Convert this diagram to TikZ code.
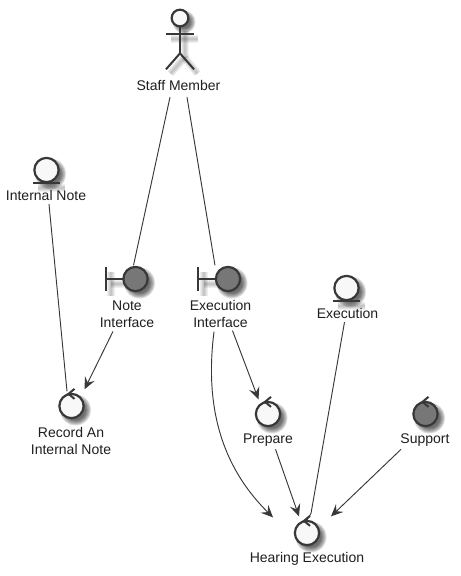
\documentclass[tikz,border=0pt]{standalone}
\usepackage{fontspec}
\setmainfont{Liberation Sans}
\usetikzlibrary{arrows.meta,calc}
\definecolor{ink}{HTML}{383838}
\definecolor{lite}{HTML}{F8F8F8}
\definecolor{dark}{HTML}{777777}
\newcommand{\softdisc}[3]{%
  \foreach \d in {3,2,1,0,-1,-2}
    \fill[black,fill opacity=.13] (#1+4,#2+4) circle[radius=#3+\d];}
\newcommand{\softline}[4]{%
  \foreach \w in {6pt,4.5pt,3pt,1.5pt}
    \draw[black,draw opacity=.06,line width=\w] (#1+4.5,#2+4.5) -- (#3+4.5,#4+4.5);}
\tikzset{
  x=0.75pt,y=-0.75pt,
  icon/.style={circle,draw=ink,line width=1.65pt,minimum size=18.2pt,inner sep=0pt,outer sep=0pt},
  lightic/.style={icon,fill=lite},
  darkic/.style={icon,fill=dark},
  lbl/.style={inner sep=0pt,outer sep=0pt,align=center,font=\fontsize{10.5pt}{12.75pt}\selectfont,text=black!88},
  glyph/.style={draw=ink,line width=1.5pt},
  link/.style={draw=ink,line width=0.7pt},
  flow/.style={link,-{Stealth[length=9pt,width=8pt,inset=3.4pt]}},
}
\begin{document}
\begin{tikzpicture}
\useasboundingbox (0,0) rectangle (461,576);
\fill[white] (0,0) rectangle (461,576);
% shadows
\softdisc{180}{18}{8.5}
\softline{166}{34}{193}{34}
\softline{180}{26}{180}{53}
\softline{180}{53}{166}{69}
\softline{180}{53}{193}{69}
\softdisc{46.5}{170}{12.5}
\softline{33}{183}{60}{183}
\softdisc{346.5}{288}{12.5}
\softline{333}{301}{360}{301}
\softdisc{135.5}{279}{12.5}
\softline{106}{267}{106}{291}
\softline{106}{279}{123}{279}
\softdisc{228}{279}{12.5}
\softline{199}{267}{199}{291}
\softline{199}{279}{216}{279}
\softdisc{71.5}{406}{12.5}
\softdisc{268}{414}{12.5}
\softdisc{425.5}{414}{12.5}
\softdisc{307}{533}{12.5}
% actor
\node[icon,fill=lite,minimum size=12.5pt] (staffHead) at (180,18) {};
\coordinate (staffHip) at ($(staffHead.south)+(0,27)$);
\coordinate (staffArms) at ($(staffHead.south)+(0,8)$);
\draw[glyph] (staffHead.south) -- (staffHip);
\draw[glyph] ($(staffArms)+(-14,0)$) -- ($(staffArms)+(14,0)$);
\draw[glyph] ($(staffHip)+(-14,16)$) -- (staffHip) -- ($(staffHip)+(14,16)$);
\node[lbl] (staffLabel) at (178.5,85) {Staff Member};
% entities
\node[lightic] (noteEntity) at (46.5,170) {};
\draw[glyph] ($(noteEntity.south)+(-13.5,0.5)$) -- ($(noteEntity.south)+(13.5,0.5)$);
\node[lbl] (noteEntityLabel) at (46,195) {Internal Note};
\node[lightic] (execEntity) at (346.5,288) {};
\draw[glyph] ($(execEntity.south)+(-13.5,0.5)$) -- ($(execEntity.south)+(13.5,0.5)$);
\node[lbl] (execEntityLabel) at (347.5,313) {Execution};
% boundaries
\node[darkic] (noteBoundary) at (135.5,279) {};
\draw[glyph] ($(noteBoundary.west)+(-17.5,-12)$) -- ($(noteBoundary.west)+(-17.5,12)$);
\draw[glyph] ($(noteBoundary.west)+(-17.5,0)$) -- (noteBoundary.west);
\node[lbl] (noteBoundaryLabel) at (127,314) {Note\\Interface};
\node[darkic] (execBoundary) at (228,279) {};
\draw[glyph] ($(execBoundary.west)+(-17.5,-12)$) -- ($(execBoundary.west)+(-17.5,12)$);
\draw[glyph] ($(execBoundary.west)+(-17.5,0)$) -- (execBoundary.west);
\node[lbl] (execBoundaryLabel) at (220.5,314) {Execution\\Interface};
% controls
\newcommand{\ctlmark}[1]{\draw[glyph] ($(#1.north)+(3,-5)$) -- ($(#1.north)+(-3,0)$) -- ($(#1.north)+(3,5)$);}
\node[lightic] (recordCtl) at (71.5,406) {};
\ctlmark{recordCtl}
\node[lbl] (recordLabel) at (71,440.5) {Record An\\Internal Note};
\node[lightic] (prepareCtl) at (268,414) {};
\ctlmark{prepareCtl}
\node[lbl] (prepareLabel) at (268,440) {Prepare};
\node[darkic] (supportCtl) at (425.5,414) {};
\ctlmark{supportCtl}
\node[lbl] (supportLabel) at (425,440) {Support};
\node[lightic] (hearingCtl) at (307,533) {};
\ctlmark{hearingCtl}
\node[lbl] (hearingLabel) at (307,559) {Hearing Execution};
% connectors
\draw[link] ($(staffLabel.south)+(-8.5,7)$) -- ($(noteBoundary.north)+(-2,-1.5)$);
\draw[link] ($(staffLabel.south)+(8.5,7)$) -- ($(execBoundary.north)+(-13,-1.5)$);
\draw[link] ($(noteEntityLabel.south)+(3,4)$) -- ($(recordCtl.north)+(-4.5,-2.5)$);
\draw[flow] ($(noteBoundaryLabel.south)+(-14,4)$) -- ($(recordCtl.north)+(13,-4.5)$);
\draw[flow] ($(execBoundaryLabel.south)+(12,3)$) -- ($(prepareCtl.north)+(-9.5,-2.5)$);
\draw[flow] ($(execBoundaryLabel.south)+(-6.5,4)$) .. controls (206,395) and (215,460) .. ($(hearingCtl.north)+(-34,-3.5)$);
\draw[flow] ($(prepareLabel.south)+(7.5,3)$) -- ($(hearingCtl.north)+(-8,-4.5)$);
\draw[flow] ($(supportLabel.south)+(-24,3)$) -- ($(hearingCtl.north)+(24,-4.5)$);
\draw[link] ($(execEntityLabel.south)+(-3,4)$) -- ($(hearingCtl.north)+(4,-7.5)$) -- ($(hearingCtl.north)+(0,-1)$);
\end{tikzpicture}
\end{document}
